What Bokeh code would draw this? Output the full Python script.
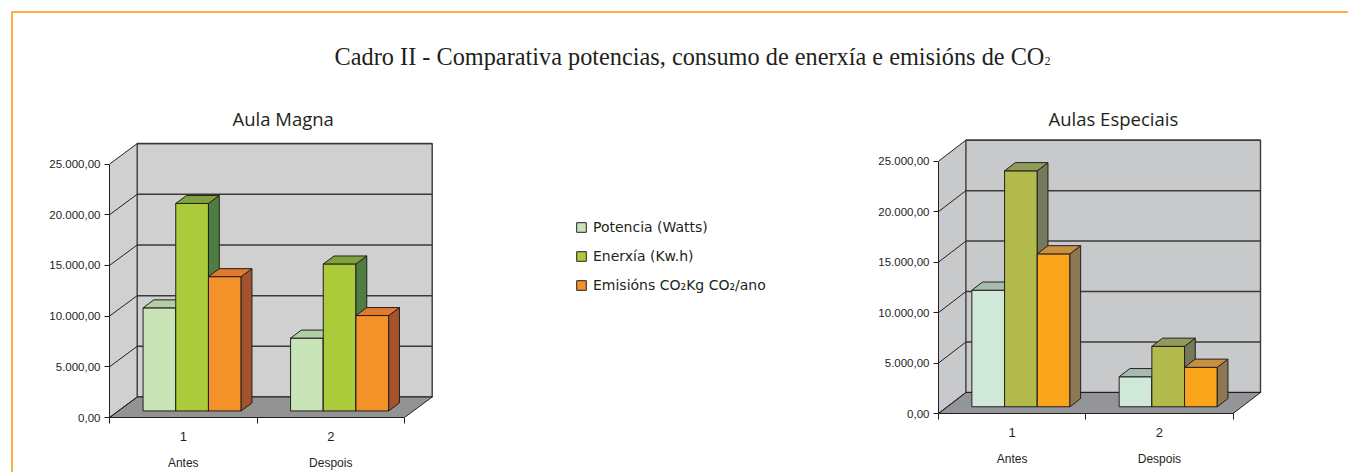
from bokeh.plotting import figure
from bokeh.models import Range1d, FixedTicker, LinearAxis, Legend, LegendItem, Div
from bokeh.layouts import column, row
from bokeh.embed import file_html
from bokeh.resources import INLINE

# ---------------- data ----------------
categories = [1, 2]
category_labels = ["1", "2"]
period_labels = ["Antes", "Despois"]
series_names = ["Potencia (Watts)", "Enerxía (Kw.h)", "Emisións CO₂Kg CO₂/ano"]

magna_potencia = [10170, 7185]
magna_enerxia = [20470, 14500]
magna_emisions = [13250, 9410]

especiais_potencia = [11550, 2975]
especiais_enerxia = [23380, 5990]
especiais_emisions = [15150, 3910]

y_ticks = [0, 5000, 10000, 15000, 20000, 25000]
y_tick_labels = ["0,00", "5.000,00", "10.000,00", "15.000,00", "20.000,00", "25.000,00"]

main_title = "Cadro II - Comparativa potencias, consumo de enerxía e emisións de CO"
chart_titles = ["Aula Magna", "Aulas Especiais"]

# ---------------- styles ----------------
INK = "#231f20"
magna_style = dict(
    front=["#c9e4b6", "#accb3b", "#f29229"],
    side=["#8fae80", "#4e7d42", "#a3532e"],
    top=["#b3cda6", "#7fa23c", "#e07a2c"],
    wall="#d0d0d0", floor="#939393",
)
especiais_style = dict(
    front=["#cfe8d8", "#b1ba4b", "#f8a51c"],
    side=["#8a9a90", "#76795a", "#8e7753"],
    top=["#a8bbaf", "#8f9b5a", "#c8913f"],
    wall="#c8c9cb", floor="#939598",
)


def build_chart(title, values, st, g, with_legend=False):
    ppx, ppv = g["ppx"], g["ppv"]
    p = figure(
        frame_width=g["fw"], frame_height=g["fh"],
        min_border_left=g["bl"], min_border_right=g["br"],
        min_border_top=g["bt"], min_border_bottom=g["bb"],
        x_range=Range1d(0.5, 0.5 + g["fw"] / ppx),
        y_range=Range1d(0, g["fh"] / ppv),
        x_axis_type=None, y_axis_type=None,
        output_backend="svg", toolbar_location=None,
        outline_line_color=None, background_fill_color=None,
        border_fill_color=None, title=title,
    )
    p.title.align = "left"
    p.title.offset = g["title_off"]
    p.title.text_font = "Open Sans"
    p.title.text_font_size = "18.5px"
    p.title.text_font_style = "normal"
    p.title.text_color = INK
    p.title.standoff = 16

    TOP = y_ticks[-1]
    DX = g["dx"] / ppx
    DY = g["dy"] / ppv
    x0, x1 = 0.5, 2.5
    f0, f1 = 0.32, 0.71
    BW = 32.7 / ppx

    # walls and floor
    p.patch([x0, x0 + DX, x0 + DX, x0], [0, DY, TOP + DY, TOP],
            fill_color=st["wall"], line_color=None)
    p.quad(left=[x0 + DX], right=[x1 + DX], bottom=[DY], top=[TOP + DY],
           fill_color=st["wall"], line_color="#3a3a3a", line_width=1.4)
    p.patch([x0, x1, x1 + DX, x0 + DX], [0, 0, DY, DY],
            fill_color=st["floor"], line_color=INK, line_width=1)
    gt = [t for t in y_ticks if t > 0]
    p.multi_line([[x0 + DX, x1 + DX] for t in gt], [[t + DY, t + DY] for t in gt],
                 line_color="#3a3a3a", line_width=1.5)
    p.multi_line([[x0, x0 + DX] for t in y_ticks], [[t, t + DY] for t in y_ticks],
                 line_color=INK, line_width=1)

    # bars
    bdx, bdy = (f1 - f0) * DX, (f1 - f0) * DY
    base = f0 * DY
    fronts = []
    for j, vals in enumerate(values):
        xc = [c + f0 * DX + (j - 1) * BW for c in categories]
        lefts = [x - BW / 2 for x in xc]
        rights = [x + BW / 2 for x in xc]
        tops = [base + v for v in vals]
        r = p.quad(left=lefts, right=rights, bottom=[base] * len(vals), top=tops,
                   fill_color=st["front"][j], line_color=INK, line_width=1)
        fronts.append(r)
        p.patches([[rr, rr + bdx, rr + bdx, rr] for rr in rights],
                  [[base, base + bdy, t + bdy, t] for t in tops],
                  fill_color=st["side"][j], line_color=INK, line_width=1)
        p.patches([[l, rr, rr + bdx, l + bdx] for l, rr in zip(lefts, rights)],
                  [[t, t, t + bdy, t + bdy] for t in tops],
                  fill_color=st["top"][j], line_color=INK, line_width=1)

    # axes
    yaxis = LinearAxis(
        ticker=FixedTicker(ticks=y_ticks), bounds=(0, TOP),
        major_label_overrides={t: s for t, s in zip(y_ticks, y_tick_labels)},
        major_tick_out=5, major_tick_in=0, minor_tick_out=0, minor_tick_in=0,
        axis_line_color=INK, major_tick_line_color=INK,
        major_label_text_font="Liberation Sans", major_label_text_font_size="11.5px",
        major_label_text_color=INK, major_label_standoff=4,
    )
    p.add_layout(yaxis, "left")
    xaxis = LinearAxis(
        ticker=FixedTicker(ticks=categories, minor_ticks=[0.5, 1.5, 2.5]),
        bounds=(0.5, 2.5),
        major_label_overrides={c: s for c, s in zip(categories, category_labels)},
        major_tick_out=0, major_tick_in=0, minor_tick_out=6, minor_tick_in=0,
        axis_line_color=INK, minor_tick_line_color=INK, axis_line_width=1.2,
        major_label_text_font="Liberation Sans", major_label_text_font_size="13px",
        major_label_text_color=INK, major_label_standoff=8,
    )
    p.add_layout(xaxis, "below")
    xaxis2 = LinearAxis(
        ticker=FixedTicker(ticks=categories, minor_ticks=[]),
        major_label_overrides={c: s for c, s in zip(categories, period_labels)},
        axis_line_color=None, major_tick_line_color=None, minor_tick_line_color=None,
        major_tick_out=0, minor_tick_out=0,
        major_label_text_font="Liberation Sans", major_label_text_font_size="12px",
        major_label_text_color=INK, major_label_standoff=12,
    )
    p.add_layout(xaxis2, "below")

    if with_legend:
        legend = Legend(
            items=[LegendItem(label=n, renderers=[r]) for n, r in zip(series_names, fronts)],
            location=(g["leg_x"], g["leg_y"]),
            border_line_color=None, background_fill_alpha=0,
            padding=0, margin=0, spacing=8,
            glyph_width=12, glyph_height=12, label_height=21, label_standoff=6,
            label_text_font="DejaVu Sans", label_text_font_size="14px",
            label_text_color=INK,
        )
        p.add_layout(legend)
    return p


g_left = dict(ppx=147.5, ppv=253.4 / 25000, fw=686, fh=279, bl=96, br=5, bt=60, bb=49,
              dx=27.7, dy=20.5, title_off=123, leg_x=466, leg_y=122)
g_right = dict(ppx=147.3, ppv=252.3 / 25000, fw=362, fh=275, bl=138, br=48, bt=60, bb=53,
               dx=27.4, dy=21.0, title_off=110)

p1 = build_chart(chart_titles[0], [magna_potencia, magna_enerxia, magna_emisions],
                 magna_style, g_left, with_legend=True)
p2 = build_chart(chart_titles[1], [especiais_potencia, especiais_enerxia, especiais_emisions],
                 especiais_style, g_right)

title_html = (
    '<div style="display:block; box-sizing:border-box; width:1335px; padding-left:24px; '
    "text-align:center; padding-top:30px; "
    "font-family:'Liberation Serif'; font-size:24.3px; line-height:28px; "
    'color:#231f20; white-space:nowrap;">'
    + main_title + '<span style="font-size:12px;">2</span></div>'
)
head = Div(text=title_html, width=1335, height=65, margin=(0, 0, 0, 0))

layout = column(
    head, row(p1, p2, spacing=0), spacing=0,
    styles={"margin-left": "11px", "margin-top": "11px",
            "border-left": "2px solid #fbb040", "border-top": "2px solid #fbb040"},
)

open("out.html", "w").write(file_html(layout, INLINE))
